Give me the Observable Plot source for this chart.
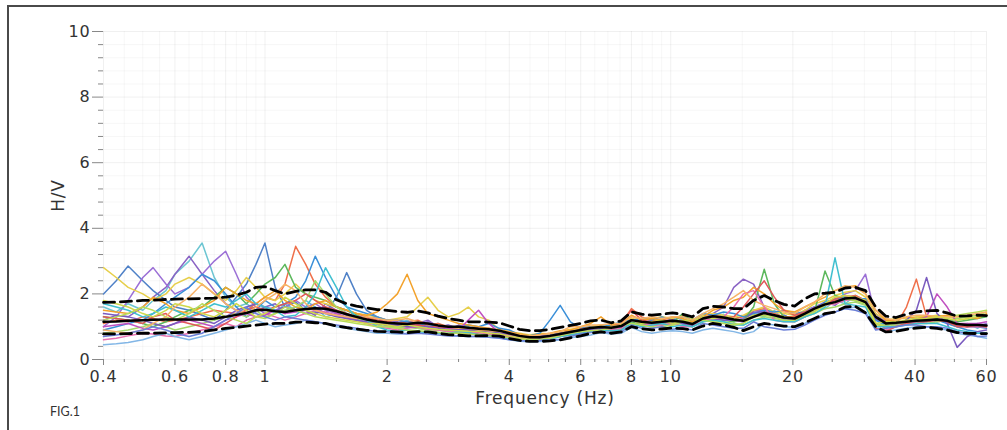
<!DOCTYPE html>
<html><head><meta charset="utf-8">
<script src="https://cdn.jsdelivr.net/npm/d3@7"></script>
<script src="https://cdn.jsdelivr.net/npm/@observablehq/plot@0.6"></script>
<style>
html,body{margin:0;padding:0;background:#fff;width:1007px;height:430px;overflow:hidden;position:relative;}
#frame{position:absolute;left:7px;top:5px;width:1100px;height:600px;border-left:2px solid #4a4a4a;border-top:2px solid #4a4a4a;}
#chart{position:absolute;left:0;top:0;}
#cap{position:absolute;left:50px;top:404px;font-family:Lato,"Open Sans",sans-serif;font-size:12.5px;color:#333;}
</style></head><body>
<div id="frame"></div><div id="chart"></div><div id="cap">FIG.1</div>
<script>
const freq = [0.4,0.43,0.46,0.5,0.53,0.57,0.6,0.65,0.7,0.75,0.8,0.85,0.9,0.95,1.0,
 1.06,1.12,1.19,1.26,1.33,1.41,1.5,1.59,1.68,1.78,1.89,2.0,
 2.12,2.24,2.38,2.52,2.67,2.83,3.0,3.17,3.36,3.56,3.78,4.0,
 4.24,4.49,4.76,5.04,5.34,5.66,6.0,6.35,6.73,7.13,7.55,8.0,
 8.48,8.98,9.51,10.1,10.7,11.3,12.0,12.7,13.5,14.3,15.1,16.0,
 17.0,18.0,19.0,20.2,21.4,22.6,24.0,25.4,26.9,28.5,30.2,32.0,
 33.9,35.9,38.1,40.3,42.7,45.3,48.0,50.8,53.8,57.0,60.0];
const meanHV = [1.15,1.16,1.18,1.2,1.21,1.22,1.22,1.22,1.22,1.25,1.3,1.36,1.42,1.5,1.52,
 1.47,1.45,1.5,1.54,1.56,1.55,1.47,1.38,1.3,1.22,1.16,1.12,
 1.1,1.08,1.12,1.1,1.04,1.0,1.0,0.97,0.94,0.92,0.88,0.8,
 0.72,0.68,0.68,0.72,0.78,0.84,0.9,0.96,0.99,0.97,1.02,1.2,
 1.15,1.12,1.15,1.18,1.15,1.08,1.25,1.32,1.28,1.22,1.18,1.3,
 1.42,1.35,1.28,1.25,1.4,1.55,1.68,1.75,1.86,1.88,1.75,1.3,
 1.1,1.12,1.15,1.18,1.2,1.22,1.18,1.08,1.05,1.05,1.04];
const upperHV = [1.74,1.75,1.77,1.8,1.81,1.83,1.84,1.85,1.86,1.87,1.9,1.96,2.05,2.2,2.22,
 2.1,2.0,2.08,2.12,2.12,2.05,1.82,1.7,1.63,1.57,1.52,1.5,
 1.46,1.44,1.48,1.42,1.32,1.25,1.2,1.15,1.15,1.14,1.12,1.02,
 0.92,0.88,0.88,0.92,0.98,1.04,1.1,1.18,1.2,1.12,1.18,1.45,
 1.38,1.35,1.38,1.42,1.38,1.3,1.55,1.62,1.6,1.55,1.55,1.8,
 1.95,1.8,1.68,1.63,1.85,2.0,2.02,2.05,2.18,2.2,2.1,1.6,
 1.32,1.28,1.38,1.45,1.48,1.5,1.42,1.32,1.33,1.35,1.34];
const lowerHV = [0.78,0.78,0.79,0.8,0.8,0.81,0.82,0.83,0.85,0.9,0.95,0.98,1.02,1.05,1.08,
 1.1,1.1,1.14,1.14,1.12,1.1,1.02,0.97,0.93,0.89,0.86,0.85,
 0.84,0.82,0.85,0.84,0.8,0.76,0.74,0.72,0.72,0.73,0.71,0.64,
 0.58,0.55,0.55,0.57,0.6,0.66,0.72,0.8,0.84,0.8,0.84,1.0,
 0.94,0.9,0.93,0.96,0.94,0.9,1.02,1.1,1.05,0.98,0.88,1.0,
 1.1,1.06,1.02,1.0,1.12,1.25,1.4,1.45,1.6,1.62,1.42,1.0,
 0.84,0.86,0.92,0.96,0.98,0.95,0.9,0.82,0.8,0.79,0.79];

const win01 = [1.6,1.45,1.7,1.5,1.8,2.1,2.6,3.0,3.55,2.5,1.9,1.6,1.7,1.5,1.6,
 1.4,1.7,1.5,1.8,1.6,1.3,1.4,1.25,1.35,1.1,1.2,1.0,
 1.05,1.2,1.0,1.15,0.95,1.05,0.9,1.0,0.85,0.95,0.8,0.75,
 0.66,0.72,0.62,0.78,0.74,0.9,0.85,1.0,0.95,1.05,0.98,1.15,
 1.25,1.05,1.2,1.1,1.25,1.0,1.3,1.2,1.38,1.15,1.25,1.4,
 1.3,1.5,1.2,1.35,1.3,1.6,1.55,1.8,1.7,1.95,1.8,1.2,
 1.0,1.2,1.1,1.25,1.15,1.3,1.1,1.0,1.1,0.95,1.1];
const win02 = [1.2,1.35,1.3,1.6,1.9,2.2,2.6,3.15,2.6,2.1,1.7,1.5,1.3,1.45,1.6,
 1.7,1.4,1.6,1.5,1.35,1.7,1.5,1.35,1.2,1.3,1.1,1.2,
 1.15,1.0,1.1,1.2,1.0,0.9,1.05,0.95,1.0,0.88,0.92,0.82,
 0.7,0.65,0.72,0.7,0.8,0.78,0.92,0.9,1.02,0.92,1.05,1.25,
 1.1,1.2,1.05,1.25,1.1,1.15,1.2,1.4,1.6,2.2,2.45,2.3,
 1.6,1.3,1.35,1.2,1.45,1.5,1.75,1.65,1.9,1.8,1.7,1.4,
 1.15,1.05,1.2,1.1,1.25,1.2,1.25,1.1,1.0,1.1,1.05];
const win03 = [2.0,2.4,2.85,2.4,2.1,1.8,1.6,1.5,1.35,1.2,1.5,1.9,2.3,2.9,3.55,
 2.2,1.6,1.75,1.5,1.6,1.4,1.9,2.65,2.0,1.5,1.3,1.05,
 1.1,1.0,1.15,1.05,1.1,0.95,1.0,0.9,0.95,0.85,0.9,0.78,
 0.75,0.7,0.66,0.75,0.8,0.86,0.88,0.98,0.95,1.0,1.05,1.18,
 1.2,1.1,1.15,1.2,1.1,1.05,1.3,1.25,1.3,1.2,1.15,1.35,
 1.45,1.3,1.35,1.2,1.5,1.6,1.65,1.8,1.85,1.95,1.7,1.25,
 1.05,1.1,1.2,1.15,1.25,1.15,1.2,1.05,1.0,1.0,0.95];
const win04 = [1.0,1.3,1.8,2.5,2.8,2.3,2.0,2.2,2.6,3.0,3.3,2.6,1.9,1.6,1.4,
 1.5,1.6,1.8,1.6,1.7,1.5,1.4,1.5,1.35,1.25,1.3,1.2,
 1.2,1.1,1.05,1.15,1.0,1.05,0.95,0.92,0.9,0.95,0.85,0.8,
 0.68,0.7,0.64,0.7,0.75,0.8,0.9,0.92,1.0,0.95,1.0,1.25,
 1.1,1.15,1.2,1.15,1.2,1.1,1.3,1.3,1.25,1.2,1.25,1.5,
 1.5,1.35,1.3,1.3,1.45,1.6,1.75,1.8,2.0,2.1,2.6,1.3,
 1.2,1.1,1.15,1.2,1.3,1.25,1.15,1.1,1.05,1.0,1.1];
const win05 = [1.1,1.2,1.15,1.3,1.25,1.15,1.2,1.3,1.4,1.5,1.45,1.4,1.5,1.7,1.9,
 1.8,2.3,3.45,2.9,2.3,1.9,1.6,1.5,1.4,1.3,1.2,1.15,
 1.1,1.15,1.2,1.05,1.1,1.0,0.95,0.9,0.95,0.85,0.85,0.8,
 0.68,0.65,0.7,0.75,0.8,0.88,0.85,0.95,1.0,1.05,1.1,1.55,
 1.3,1.2,1.15,1.2,1.1,1.1,1.3,1.35,1.3,1.25,1.3,1.5,
 1.55,1.4,1.3,1.3,1.45,1.55,1.7,1.8,1.9,1.95,1.8,1.1,
 0.95,1.05,1.6,2.45,1.3,1.25,1.15,1.0,1.05,1.05,1.0];
const win06 = [2.8,2.5,2.2,2.0,1.8,2.0,2.3,2.5,2.3,2.0,1.8,2.1,2.5,2.2,1.9,
 1.8,2.0,2.3,2.0,1.8,1.7,1.6,1.5,1.4,1.35,1.3,1.2,
 1.25,1.3,1.6,1.9,1.5,1.3,1.4,1.6,1.3,1.2,0.9,0.85,
 0.8,0.75,0.8,0.78,0.85,0.92,0.95,1.0,1.05,1.0,1.1,1.25,
 1.2,1.25,1.3,1.25,1.35,1.2,1.35,1.4,1.35,1.3,1.35,1.5,
 1.6,1.45,1.4,1.35,1.5,1.7,1.8,1.95,2.05,2.1,1.9,1.4,
 1.2,1.25,1.25,1.3,1.3,1.35,1.3,1.25,1.2,1.3,1.35];
const win07 = [0.9,1.0,1.1,1.2,1.4,1.7,1.9,2.2,2.6,2.4,2.0,1.6,1.3,1.5,1.8,
 1.6,1.7,1.9,2.4,3.15,2.5,1.9,1.6,1.5,1.4,1.3,1.2,
 1.2,1.15,1.1,1.0,1.05,0.95,1.0,1.05,1.0,1.1,0.95,0.9,
 0.75,0.72,0.8,1.2,1.65,1.15,0.95,1.0,1.0,1.05,1.15,1.2,
 1.25,1.2,1.3,1.2,1.3,1.2,1.4,1.35,1.45,1.4,1.3,1.4,
 1.5,1.45,1.5,1.4,1.45,1.55,1.75,1.85,1.9,1.85,1.85,1.2,
 1.05,1.1,1.2,1.25,1.2,1.2,1.1,1.0,0.9,0.85,0.8];
const win08 = [1.3,1.25,1.2,1.1,1.0,1.15,1.3,1.5,1.6,1.9,2.2,2.0,1.7,2.0,2.3,
 2.5,2.9,2.2,2.0,1.9,1.8,1.6,1.5,1.35,1.2,1.1,1.05,
 1.0,1.0,0.95,0.92,0.9,0.85,0.8,0.82,0.78,0.75,0.72,0.7,
 0.65,0.62,0.64,0.66,0.7,0.76,0.8,0.88,0.95,0.92,0.95,1.15,
 1.05,1.1,1.05,1.1,1.4,1.15,1.2,1.25,1.2,1.15,1.2,1.6,
 2.75,1.7,1.3,1.2,1.3,1.45,2.7,1.95,1.85,1.8,1.7,1.3,
 1.1,1.15,1.1,1.15,1.2,1.25,1.2,1.15,1.2,1.25,1.3];
const win09 = [1.5,1.45,1.4,1.6,1.9,1.7,1.5,1.4,1.6,1.8,2.2,2.0,1.8,1.7,1.9,
 2.1,1.8,1.6,1.5,1.7,1.8,1.6,1.5,1.4,1.35,1.45,1.7,
 2.0,2.6,1.8,1.4,1.3,1.2,1.1,1.05,1.0,0.95,0.9,0.85,
 0.78,0.72,0.76,0.8,0.88,0.9,1.0,1.1,1.3,1.05,1.1,1.35,
 1.2,1.25,1.2,1.3,1.25,1.15,1.3,1.5,1.6,1.8,1.9,2.2,
 2.0,1.7,1.5,1.45,1.6,1.75,1.9,2.1,2.2,2.25,2.0,1.5,
 1.2,1.2,1.3,1.25,1.3,1.3,1.35,1.3,1.3,1.25,1.4];
const win10 = [0.8,0.85,0.9,1.0,1.1,1.0,0.9,1.0,1.1,1.2,1.3,1.4,1.3,1.5,1.3,
 1.4,1.5,1.6,1.8,2.4,2.0,1.6,1.4,1.25,1.15,1.05,1.0,
 0.95,1.0,0.95,0.9,0.88,0.92,0.85,0.9,0.85,0.88,0.8,0.72,
 0.65,0.62,0.6,0.66,0.7,0.75,0.82,0.86,0.9,0.88,0.92,1.1,
 1.05,1.0,1.1,1.05,1.1,1.0,1.15,1.2,1.15,1.1,1.05,1.2,
 1.3,1.25,1.2,1.15,1.3,1.4,1.55,1.6,1.7,1.75,1.65,1.1,
 1.0,1.05,1.05,1.1,1.1,1.15,1.2,1.25,1.3,1.35,1.45];
const win11 = [0.6,0.65,0.72,0.8,0.78,0.72,0.7,0.8,0.9,1.0,1.1,1.0,1.2,1.3,1.4,
 1.3,1.2,1.3,1.4,1.5,1.45,1.35,1.25,1.2,1.1,1.0,0.95,
 0.9,0.95,1.0,0.92,0.9,0.85,0.85,0.8,0.82,0.78,0.75,0.7,
 0.62,0.6,0.62,0.65,0.7,0.75,0.8,0.88,0.92,0.9,0.95,1.2,
 1.1,1.05,1.05,1.1,1.0,1.0,1.25,1.2,1.3,1.6,2.0,2.1,
 1.6,1.2,1.15,1.15,1.3,1.5,1.65,1.7,1.8,1.85,1.75,0.95,
 0.9,1.0,1.1,1.15,1.2,1.3,1.15,1.05,1.0,1.0,1.0];
const win12 = [0.45,0.48,0.52,0.6,0.7,0.8,0.7,0.6,0.7,0.8,0.9,1.0,1.1,1.2,1.1,
 1.0,1.05,1.1,1.2,1.15,1.1,1.0,0.95,0.9,0.85,0.8,0.8,
 0.78,0.8,0.85,0.82,0.8,0.75,0.72,0.7,0.7,0.68,0.66,0.6,
 0.56,0.54,0.55,0.56,0.6,0.66,0.7,0.75,0.82,0.78,0.8,0.98,
 0.85,0.8,0.85,0.88,0.85,0.8,0.9,0.95,0.9,0.85,0.78,0.85,
 1.1,1.05,1.0,0.98,1.1,1.25,1.4,1.45,1.55,1.6,1.45,0.95,
 0.85,0.9,0.95,1.0,1.0,0.95,0.9,0.8,0.75,0.7,0.65];
const win13 = [1.0,1.05,1.1,0.95,0.9,1.0,1.1,1.2,1.1,1.0,1.2,1.3,1.4,1.3,1.35,
 1.5,1.4,1.45,1.5,1.55,1.6,1.4,1.3,1.2,1.15,1.1,1.05,
 1.05,1.1,1.05,1.0,1.0,0.95,0.9,1.2,1.5,1.1,0.82,0.75,
 0.68,0.65,0.66,0.7,0.75,0.82,0.9,0.95,0.95,0.95,1.0,1.2,
 1.15,1.1,1.15,1.2,1.1,1.05,1.25,1.3,1.25,1.2,1.15,1.3,
 1.4,1.35,1.25,1.25,1.35,1.55,1.7,1.75,1.85,1.9,1.8,1.3,
 1.15,1.1,1.15,1.2,1.3,2.0,1.6,1.1,1.1,1.1,1.15];
const win14 = [1.3,1.25,1.2,1.1,1.3,1.4,1.2,1.1,1.0,0.9,1.1,1.3,1.5,1.6,1.5,
 1.6,1.7,1.8,2.0,1.8,1.6,1.5,1.4,1.3,1.25,1.2,1.15,
 1.1,1.05,1.05,1.0,1.0,0.98,0.95,0.92,0.9,0.88,0.85,0.78,
 0.7,0.66,0.7,0.72,0.78,0.84,0.92,0.98,1.0,1.0,1.1,1.5,
 1.2,1.15,1.2,1.2,1.15,1.1,1.3,1.3,1.25,1.3,1.6,2.0,
 2.4,1.9,1.5,1.35,1.45,1.55,1.7,1.85,1.95,1.9,1.75,0.95,
 0.85,1.0,1.1,1.1,1.15,1.2,1.15,1.0,1.0,1.05,1.0];
const win15 = [1.4,1.35,1.3,1.2,1.1,1.0,1.1,1.3,1.2,1.1,1.3,1.5,1.6,1.7,1.6,
 1.5,1.6,1.5,1.4,1.45,1.4,1.3,1.25,1.2,1.15,1.1,1.1,
 1.05,1.0,1.0,1.0,0.95,0.9,0.92,0.9,0.88,0.85,0.82,0.78,
 0.7,0.7,0.72,0.74,0.8,0.85,0.88,0.92,0.95,0.98,1.0,1.2,
 1.1,1.15,1.12,1.15,1.1,1.05,1.3,1.25,1.2,1.2,1.2,1.45,
 1.45,1.3,1.25,1.2,1.35,1.5,1.7,1.75,1.9,1.85,1.75,1.25,
 1.1,1.1,1.2,1.5,2.5,1.4,1.1,0.37,0.7,0.85,0.9];
const win16 = [1.7,1.6,1.5,1.3,1.4,1.6,1.5,1.3,1.5,1.7,1.6,1.8,2.0,1.7,1.6,
 1.5,1.3,1.35,1.6,2.0,2.8,2.2,1.6,1.3,1.2,1.0,0.9,
 0.85,0.9,0.85,0.82,0.8,0.8,0.85,0.82,0.75,0.72,0.7,0.62,
 0.6,0.58,0.6,0.62,0.7,0.75,0.8,0.85,0.9,0.88,0.9,1.1,
 1.0,1.05,1.1,1.0,1.05,1.0,1.15,1.2,1.15,1.05,1.05,1.2,
 1.25,1.2,1.15,1.15,1.3,1.4,1.6,3.1,1.7,1.65,1.6,1.0,
 1.0,1.0,1.05,1.1,1.1,1.1,1.0,0.9,0.85,0.8,0.8];
const win17 = [1.2,1.3,1.4,1.6,1.5,1.3,1.2,1.4,1.7,1.5,1.3,1.2,1.1,1.3,1.25,
 1.4,1.6,1.5,1.4,1.3,1.25,1.2,1.15,1.1,1.05,1.0,1.0,
 0.95,0.9,0.88,0.85,0.82,0.8,0.8,0.78,0.75,0.72,0.7,0.66,
 0.62,0.6,0.62,0.65,0.72,0.8,0.85,0.88,0.9,0.95,1.05,1.1,
 1.05,0.98,1.0,1.05,1.15,1.25,1.2,1.15,1.1,1.05,1.1,1.3,
 1.35,1.3,1.2,1.2,1.35,1.45,1.65,1.75,1.85,1.8,1.7,1.05,
 1.05,1.1,1.15,1.2,1.25,1.3,1.3,1.35,1.4,1.45,1.5];
const win18 = [0.9,0.85,0.8,0.9,1.1,1.3,1.6,1.9,2.3,2.0,1.7,1.5,1.4,1.6,1.8,
 2.0,2.3,2.1,1.7,1.5,1.4,1.35,1.3,1.25,1.3,1.25,1.2,
 1.2,1.25,1.15,1.1,1.05,1.0,0.95,0.95,0.9,0.88,0.85,0.82,
 0.75,0.72,0.75,0.8,0.85,1.0,1.0,1.05,1.05,1.1,1.1,1.3,
 1.25,1.3,1.25,1.3,1.3,1.2,1.4,1.55,1.7,1.9,2.1,1.8,
 1.65,1.55,1.45,1.4,1.6,1.75,2.0,2.1,2.25,2.2,2.0,1.5,
 1.25,1.2,1.3,1.35,1.35,1.3,1.3,1.3,1.35,1.4,1.45];
const win19 = [0.7,0.75,0.8,0.9,1.0,0.9,0.8,0.7,0.8,1.0,1.2,1.4,1.6,1.4,1.3,
 1.2,1.3,1.25,1.2,1.15,1.1,1.05,1.0,0.95,0.9,0.85,0.85,
 0.8,0.78,0.8,0.78,0.75,0.72,0.72,0.7,0.7,0.68,0.65,0.6,
 0.58,0.56,0.58,0.6,0.62,0.7,0.78,0.82,0.85,0.82,0.85,1.05,
 0.95,0.95,1.0,0.92,0.95,0.9,1.1,1.05,1.0,0.95,0.95,1.15,
 1.0,0.95,0.9,0.92,1.05,1.2,1.35,1.45,1.55,1.5,1.4,0.9,
 0.95,1.0,1.05,1.05,1.0,1.0,0.95,0.85,0.8,0.7,0.72];
const win20 = [1.8,1.7,1.6,1.4,1.3,1.5,1.7,1.6,1.4,1.3,1.5,1.7,1.5,1.3,1.4,
 1.6,1.9,1.7,1.5,1.4,1.3,1.25,1.2,1.15,1.1,1.1,1.05,
 1.0,1.05,1.0,0.95,0.92,0.9,0.88,0.86,0.85,0.8,0.78,0.72,
 0.66,0.65,0.68,0.7,0.78,0.85,0.9,0.98,1.0,1.0,1.05,1.2,
 1.1,1.15,1.2,1.1,1.2,1.1,1.3,1.25,1.3,1.25,1.2,1.35,
 1.4,1.35,1.3,1.25,1.4,1.5,1.7,1.9,1.95,1.9,1.8,1.1,
 1.15,1.15,1.2,1.25,1.25,1.3,1.25,1.2,1.25,1.3,1.35];

const windows = [win01,win02,win03,win04,win05,win06,win07,win08,win09,win10,win11,win12,win13,win14,win15,win16,win17,win18,win19,win20];
const winColors = ["#6cc5d2","#8a63c4","#4f81c7","#9b6fd6","#ef6f4a","#e6cf4a","#3a8fd8","#5cb85c","#f3a22b","#a5d86b","#e86fb0","#82b6e6","#c050c0","#e15759","#7a5bbf","#3fbfcf","#b8dc5a","#f7b267","#6b7fd7","#cfd84a"];

const xMajor = [0.4,0.6,0.8,1,2,4,6,8,10,20,40,60];
const xMinor = [0.45,0.5,0.55,0.65,0.7,0.75,0.85,0.9,0.95,1.5,2.5,3,3.5,4.5,5,5.5,6.5,7,7.5,8.5,9,9.5,15,25,30,35,45,50,55];
const yMajor = [0,2,4,6,8,10];
const yMinor = [0.4,0.8,1.2,1.6,2.4,2.8,3.2,3.6,4.4,4.8,5.2,5.6,6.4,6.8,7.2,7.6,8.4,8.8,9.2,9.6];
const xLabel = "Frequency (Hz)";
const yLabel = "H/V";

const winMarks = windows.map((s, k) => Plot.line(freq, {x: d => d, y: (d, i) => s[i], stroke: winColors[k], strokeWidth: 1.5, strokeOpacity: 1}));

const chart = Plot.plot({
  width: 1007, height: 400,
  marginLeft: 103, marginRight: 21, marginTop: 31, marginBottom: 41,
  x: {type: "log", domain: [0.4, 60]},
  y: {domain: [0, 10]},
  style: {fontFamily: "'DejaVu Sans', Verdana, sans-serif", fontSize: "16px", color: "#333", background: "transparent", overflow: "visible"},
  marks: [
    Plot.gridX(xMinor, {stroke: "#000", strokeOpacity: 0.035}),
    Plot.gridX(xMajor, {stroke: "#000", strokeOpacity: 0.06}),
    Plot.gridY(yMinor, {stroke: "#000", strokeOpacity: 0.035}),
    Plot.gridY(yMajor, {stroke: "#000", strokeOpacity: 0.06}),
    ...winMarks,
    Plot.line(freq, {x: d => d, y: (d, i) => upperHV[i], stroke: "#000", strokeWidth: 2.8, strokeDasharray: "11,6"}),
    Plot.line(freq, {x: d => d, y: (d, i) => lowerHV[i], stroke: "#000", strokeWidth: 2.8, strokeDasharray: "11,6"}),
    Plot.line(freq, {x: d => d, y: (d, i) => meanHV[i], stroke: "#000", strokeWidth: 2.5}),
    Plot.axisX(xMajor, {tickSize: 6, tickFormat: () => "", stroke: "#888", label: null}),
    Plot.axisX(xMinor, {tickSize: 3, tickFormat: () => "", stroke: "#888", label: null}),
    Plot.text(xMajor, {x: d => d, text: d => String(d), frameAnchor: "bottom", lineAnchor: "middle", textAnchor: "middle", dy: 17, fontSize: 16, fill: "#333"}),
    Plot.axisY(yMajor, {tickSize: 11, tickPadding: 2, tickFormat: d => String(d), stroke: "#888", fill: "#333", label: null}),
    Plot.axisY(yMinor, {tickSize: 5, tickFormat: () => "", stroke: "#888", label: null}),
    Plot.text([xLabel], {frameAnchor: "bottom", lineAnchor: "middle", textAnchor: "middle", dy: 39, fontSize: 17, fill: "#333"}),
    Plot.text([yLabel], {frameAnchor: "left", lineAnchor: "middle", textAnchor: "middle", dx: -45, rotate: -90, fontSize: 17, fill: "#333"})
  ]
});
d3.select(chart).selectAll("text").style("letter-spacing", "0.8px");
document.getElementById("chart").appendChild(chart);
</script>
</body></html>
